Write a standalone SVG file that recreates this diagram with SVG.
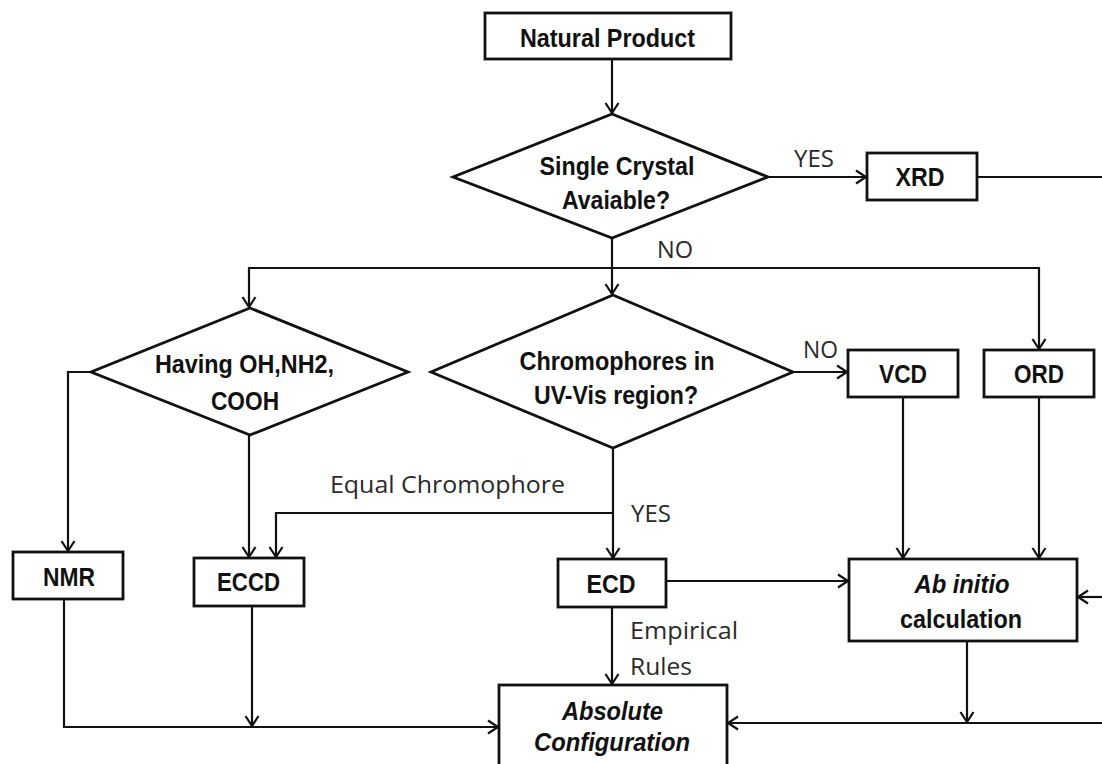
<svg xmlns="http://www.w3.org/2000/svg" width="1102" height="764" viewBox="0 0 1102 764">
<defs>
<style>
.box{fill:#fff;stroke:#111;stroke-width:2.8}
.b{font-family:"Liberation Sans Narrow","Liberation Sans",Arial,sans-serif;font-weight:bold;font-size:26px;fill:#111;text-anchor:middle}
.i{font-style:italic}
.lbl{font-family:"Open Sans","Noto Sans",sans-serif;font-size:23px;fill:#2a2a2a}
.c{fill:none;stroke:#111;stroke-width:2.2}
</style>
<marker id="ah" markerUnits="userSpaceOnUse" markerWidth="16" markerHeight="16" viewBox="-12 -8 14 16" refX="0" refY="0" orient="auto">
<path d="M-10,-6.5 L0,0 L-10,6.5" fill="none" stroke="#111" stroke-width="2.2"/>
</marker>
</defs>
<rect width="1102" height="764" fill="#fff"/>
<g id="connectors">
<path class="c" d="M612,59 V113" marker-end="url(#ah)"/>
<path class="c" d="M768,177 H866" marker-end="url(#ah)"/>
<path class="c" d="M977,177 H1102"/>
<path class="c" d="M612,238 V294" marker-end="url(#ah)"/>
<path class="c" d="M612,268 H249 V307" marker-end="url(#ah)"/>
<path class="c" d="M612,268 H1039 V349" marker-end="url(#ah)"/>
<path class="c" d="M91,372 H68 V551" marker-end="url(#ah)"/>
<path class="c" d="M249,435 V557" marker-end="url(#ah)"/>
<path class="c" d="M793,372 H847" marker-end="url(#ah)"/>
<path class="c" d="M613,448 V558" marker-end="url(#ah)"/>
<path class="c" d="M613,513 H276 V557" marker-end="url(#ah)"/>
<path class="c" d="M666,581 H848" marker-end="url(#ah)"/>
<path class="c" d="M903,397 V558" marker-end="url(#ah)"/>
<path class="c" d="M1039,397 V558" marker-end="url(#ah)"/>
<path class="c" d="M1102,597 H1078" marker-end="url(#ah)"/>
<path class="c" d="M967,641 V722" marker-end="url(#ah)"/>
<path class="c" d="M1102,723 H728" marker-end="url(#ah)"/>
<path class="c" d="M612,607 V684" marker-end="url(#ah)"/>
<path class="c" d="M64,599 V727 H498" marker-end="url(#ah)"/>
<path class="c" d="M252,606 V726" marker-end="url(#ah)"/>
</g>
<g id="edge-labels">
<text class="lbl" x="794" y="167" textLength="40" lengthAdjust="spacingAndGlyphs">YES</text>
<text class="lbl" x="657" y="258" textLength="36" lengthAdjust="spacingAndGlyphs">NO</text>
<text class="lbl" x="803" y="358" textLength="35" lengthAdjust="spacingAndGlyphs">NO</text>
<text class="lbl" x="330" y="493" textLength="235" lengthAdjust="spacingAndGlyphs">Equal Chromophore</text>
<text class="lbl" x="631" y="522" textLength="40" lengthAdjust="spacingAndGlyphs">YES</text>
<text class="lbl" x="630" y="639" textLength="108" lengthAdjust="spacingAndGlyphs">Empirical</text>
<text class="lbl" x="630" y="675" textLength="62" lengthAdjust="spacingAndGlyphs">Rules</text>
</g>
<g id="natural-product">
<rect class="box" x="485" y="13" width="246" height="46"/>
<text class="b" x="607.5" y="47" textLength="175" lengthAdjust="spacingAndGlyphs">Natural Product</text>
</g>
<g id="single-crystal">
<polygon class="box" points="612,114 768,177 612,238 453,177"/>
<text class="b" x="617" y="175" textLength="155" lengthAdjust="spacingAndGlyphs">Single Crystal</text>
<text class="b" x="616" y="209" textLength="108" lengthAdjust="spacingAndGlyphs">Avaiable?</text>
</g>
<g id="xrd">
<rect class="box" x="867" y="153" width="110" height="47"/>
<text class="b" x="920" y="186" textLength="49" lengthAdjust="spacingAndGlyphs">XRD</text>
</g>
<g id="having">
<polygon class="box" points="250,308 408,372 250,435 91,372"/>
<text class="b" x="244.5" y="373" textLength="179" lengthAdjust="spacingAndGlyphs">Having OH,NH2,</text>
<text class="b" x="245" y="410" textLength="68" lengthAdjust="spacingAndGlyphs">COOH</text>
</g>
<g id="chromophores">
<polygon class="box" points="613,295 793,372 613,448 431,372"/>
<text class="b" x="617" y="370" textLength="195" lengthAdjust="spacingAndGlyphs">Chromophores in</text>
<text class="b" x="616" y="404" textLength="164" lengthAdjust="spacingAndGlyphs">UV-Vis region?</text>
</g>
<g id="vcd">
<rect class="box" x="848" y="350" width="110" height="47"/>
<text class="b" x="903" y="383" textLength="48" lengthAdjust="spacingAndGlyphs">VCD</text>
</g>
<g id="ord">
<rect class="box" x="984" y="350" width="110" height="47"/>
<text class="b" x="1039" y="383" textLength="50" lengthAdjust="spacingAndGlyphs">ORD</text>
</g>
<g id="nmr">
<rect class="box" x="13" y="552" width="110" height="47"/>
<text class="b" x="69" y="586" textLength="52" lengthAdjust="spacingAndGlyphs">NMR</text>
</g>
<g id="eccd">
<rect class="box" x="194" y="558" width="110" height="48"/>
<text class="b" x="248.5" y="591" textLength="63" lengthAdjust="spacingAndGlyphs">ECCD</text>
</g>
<g id="ecd">
<rect class="box" x="558" y="559" width="108" height="48"/>
<text class="b" x="611" y="593" textLength="49" lengthAdjust="spacingAndGlyphs">ECD</text>
</g>
<g id="ab-initio">
<rect class="box" x="849" y="559" width="228" height="82"/>
<text class="b i" x="962" y="593" textLength="95" lengthAdjust="spacingAndGlyphs">Ab initio</text>
<text class="b" x="961" y="628" textLength="122" lengthAdjust="spacingAndGlyphs">calculation</text>
</g>
<g id="absolute-configuration">
<rect class="box" x="499" y="685" width="228" height="90"/>
<text class="b i" x="612.5" y="720" textLength="101" lengthAdjust="spacingAndGlyphs">Absolute</text>
<text class="b i" x="612" y="751" textLength="156" lengthAdjust="spacingAndGlyphs">Configuration</text>
</g>
</svg>
